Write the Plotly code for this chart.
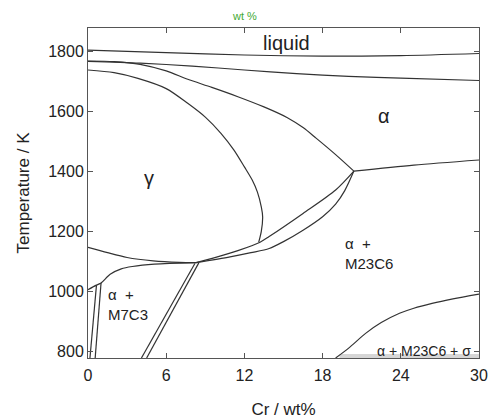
import plotly.graph_objects as go

# ---- data (Cr wt%, Temperature K) ----
liquidus_x = [0, 6, 12, 18, 24, 30]
liquidus_T = [1803, 1795, 1787, 1783, 1785, 1792]

solidus_x = [0, 4, 8, 12, 16, 20, 24, 30]
solidus_T = [1766, 1760, 1750, 1737, 1725, 1716, 1710, 1702]

alpha_upper_x = [0, 2, 4, 6, 7.65, 9.5, 11.5, 13.5, 15.3, 16.5, 17.5, 19, 20.4]
alpha_upper_T = [1767, 1765, 1756, 1734, 1706, 1679, 1648, 1614, 1578, 1545, 1510, 1455, 1400]

gamma_loop_x = [0, 2, 3.83, 6, 7.65, 9, 10.2, 11.2, 12.0, 12.6, 13.0, 13.3, 13.4, 13.3, 13.1]
gamma_loop_T = [1737, 1728, 1709, 1675, 1626, 1580, 1526, 1470, 1414, 1370, 1330, 1280, 1248, 1200, 1163]

gamma_lower_x = [0, 1.5, 3, 5, 7, 8.3]
gamma_lower_T = [1146, 1128, 1112, 1101, 1096, 1095]

m23_upper_x = [8.3, 9.6, 11.5, 13.2, 13.9, 16.5, 19.0, 20.4]
m23_upper_T = [1095, 1110, 1135, 1163, 1182, 1259, 1337, 1400]

m23_lower_x = [8.3, 10.9, 12.5, 13.9, 15.0, 16.5, 18.0, 19.0, 19.7, 20.4]
m23_lower_T = [1095, 1114, 1128, 1142, 1165, 1203, 1248, 1290, 1335, 1400]

alpha_high_x = [20.4, 25, 30]
alpha_high_T = [1400, 1420, 1437]

m7_top_x = [0, 0.65, 1.0, 1.7, 2.55, 3.4, 5.1, 8.3]
m7_top_T = [1005, 1020, 1027, 1056, 1074, 1082, 1090, 1095]

m7_left_a_x = [0.65, 0.15]
m7_left_a_T = [1020, 777]
m7_left_b_x = [1.0, 0.55]
m7_left_b_T = [1027, 777]

eut_a_x = [8.2, 4.1]
eut_a_T = [1092, 777]
eut_b_x = [8.5, 4.5]
eut_b_T = [1094, 777]

sigma_x = [19.0, 20, 21.3, 22.5, 23.9, 25, 26.4, 28, 30]
sigma_T = [777, 810, 859, 895, 926, 943, 959, 974, 990]

band_x = [19.3, 30, 30, 19.3]
band_T = [777, 777, 790, 790]

x_ticks = [0, 6, 12, 18, 24, 30]
y_ticks = [800, 1000, 1200, 1400, 1600, 1800]

labels = [
    ("liquid", 15.2, 1828, 20, "center"),
    ("α", 22.7, 1585, 20, "center"),
    ("γ", 4.7, 1378, 20, "center"),
    ("α\u00a0\u00a0+<br>M23C6", 19.6, 1124, 15, "left"),
    ("α\u00a0\u00a0+<br>M7C3", 1.35, 957, 15, "left"),
    ("α + M23C6 + σ", 25.8, 801, 14, "center"),
]

FONT = "Liberation Sans, Arial"
LINE = dict(color="#333333", width=1.2)

fig = go.Figure()

fig.add_trace(go.Scatter(x=band_x, y=band_T, fill="toself", fillcolor="#d6d6d6",
                         line=dict(width=0), mode="lines", hoverinfo="skip"))

curves = [
    (liquidus_x, liquidus_T), (solidus_x, solidus_T), (alpha_upper_x, alpha_upper_T),
    (gamma_loop_x, gamma_loop_T), (gamma_lower_x, gamma_lower_T),
    (m23_upper_x, m23_upper_T), (m23_lower_x, m23_lower_T), (alpha_high_x, alpha_high_T),
    (m7_top_x, m7_top_T), (m7_left_a_x, m7_left_a_T), (m7_left_b_x, m7_left_b_T),
    (eut_a_x, eut_a_T), (eut_b_x, eut_b_T), (sigma_x, sigma_T),
]
for cx, cy in curves:
    fig.add_trace(go.Scatter(x=cx, y=cy, mode="lines",
                             line=dict(**LINE, shape="spline", smoothing=0.8)))

for text, lx, ly, size, anchor in labels:
    fig.add_annotation(x=lx, y=ly, text=text, showarrow=False, xanchor=anchor,
                       align="left" if anchor == "left" else "center",
                       font=dict(family=FONT, size=size, color="#222222"))

fig.add_annotation(x=0.4, y=1.06, xref="paper", yref="paper", text="wt %",
                   showarrow=False, font=dict(family=FONT, size=11, color="#44aa33"))

axis_common = dict(showline=True, linecolor="#555555", linewidth=1, mirror="ticks",
                   ticks="inside", ticklen=5, tickcolor="#555555", showgrid=False,
                   zeroline=False, automargin=False, ticklabeloverflow="allow",
                   tickfont=dict(family=FONT, size=16, color="#222222"))

fig.update_xaxes(range=[0, 30], tickvals=x_ticks, ticklabelstandoff=3,
                 title=dict(text="Cr / wt%", font=dict(family=FONT, size=17, color="#222222"), standoff=20),
                 **axis_common)
fig.update_yaxes(range=[777, 1877], tickvals=y_ticks,
                 title=dict(text="Temperature / K", font=dict(family=FONT, size=17, color="#222222"), standoff=14),
                 **axis_common)

fig.update_layout(width=488, height=419, showlegend=False,
                  margin=dict(l=88, r=9, t=28, b=61),
                  plot_bgcolor="white", paper_bgcolor="white")

fig.write_html("out.html")
